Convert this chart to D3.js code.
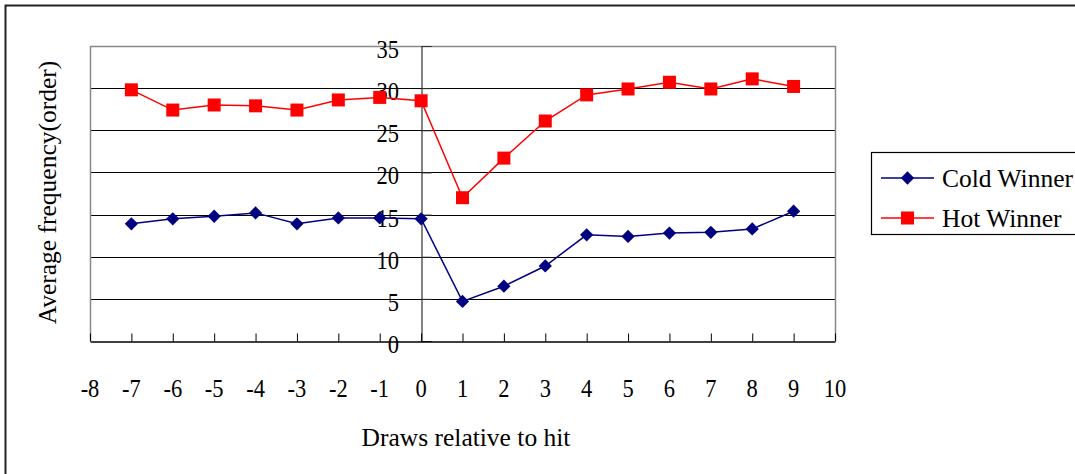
<!DOCTYPE html>
<html>
<head>
<meta charset="utf-8">
<script src="https://cdn.jsdelivr.net/npm/d3@7"></script>
<style>
  html, body { margin: 0; padding: 0; background: #fff; }
  svg { display: block; }
  text { font-family: "Liberation Serif", "Times New Roman", serif; fill: #000; }
</style>
</head>
<body>
<svg id="chart" width="1075" height="474"></svg>
<script>
// Draws relative to hit (x) and average frequency (order) per group
const draws = [-7, -6, -5, -4, -3, -2, -1, 0, 1, 2, 3, 4, 5, 6, 7, 8, 9];
const coldWinner = [13.9, 14.5, 14.8, 15.2, 13.9, 14.6, 14.6, 14.5, 4.7, 6.5, 8.9, 12.6, 12.4, 12.8, 12.9, 13.3, 15.4];
const hotWinner = [29.8, 27.4, 28.0, 27.9, 27.4, 28.6, 28.9, 28.5, 17.0, 21.7, 26.1, 29.2, 29.9, 30.7, 29.9, 31.1, 30.2];
const xTicks = [-8, -7, -6, -5, -4, -3, -2, -1, 0, 1, 2, 3, 4, 5, 6, 7, 8, 9, 10];
const yTicks = [0, 5, 10, 15, 20, 25, 30, 35];
const seriesNames = ["Cold Winner", "Hot Winner"];

const svg = d3.select("#chart");

// outer frame (runs off the right and bottom edges)
svg.append("rect")
  .attr("x", 5.5).attr("y", 5.5)
  .attr("width", 1200).attr("height", 600)
  .attr("fill", "none").attr("stroke", "#222").attr("stroke-width", 2);

const plot = { left: 90, right: 835, top: 46, bottom: 341 };
const x = d3.scaleLinear().domain([-8, 10]).range([plot.left, plot.right]);
const y = d3.scaleLinear().domain([0, 35]).range([plot.bottom, plot.top]);

// numbers are drawn a little narrow and tall
const numSize = 25, numSqueeze = 0.9, wordSize = 25.5;

// horizontal gridlines
svg.append("g").selectAll("line")
  .data(yTicks.filter(v => v > 0 && v < 35))
  .join("line")
  .attr("x1", plot.left).attr("x2", plot.right)
  .attr("y1", d => Math.round(y(d)) + 0.5).attr("y2", d => Math.round(y(d)) + 0.5)
  .attr("stroke", "#000").attr("stroke-width", 1);

// plot area frame: left, top, right in gray
svg.append("path")
  .attr("d", `M${plot.left + 0.5},${plot.bottom} V${plot.top + 0.5} H${plot.right + 0.5} V${plot.bottom}`)
  .attr("fill", "none").attr("stroke", "#888").attr("stroke-width", 1.5);

// y axis at x = 0, ticks pointing right, labels on the left
const yAxis = svg.append("g")
  .attr("transform", `translate(${Math.round(x(0)) + 0.5},0)`)
  .call(d3.axisRight(y).tickValues(yTicks).tickSize(10).tickFormat(""));
yAxis.select(".domain").attr("stroke", "#333").attr("stroke-width", 1.2);
yAxis.selectAll(".tick line").attr("stroke", "#333");

svg.append("g").selectAll("text")
  .data(yTicks)
  .join("text")
  .attr("transform", d => `translate(${Math.round(x(0)) - 22},${y(d) + 12}) scale(${numSqueeze},1)`)
  .attr("text-anchor", "end")
  .attr("font-size", numSize)
  .text(d => d);

// x axis along the bottom, ticks pointing up
const xAxis = svg.append("g")
  .attr("transform", `translate(0,${plot.bottom + 0.5})`)
  .call(d3.axisTop(x).tickValues(xTicks).tickSize(8).tickSizeOuter(0).tickFormat(""));
xAxis.select(".domain").attr("stroke", "#000").attr("stroke-width", 1.5);
xAxis.selectAll(".tick line").attr("stroke", "#000");

svg.append("g").selectAll("text")
  .data(xTicks)
  .join("text")
  .attr("transform", d => `translate(${x(d)},397) scale(${numSqueeze},1)`)
  .attr("text-anchor", "middle")
  .attr("font-size", numSize)
  .text(d => d);

// axis titles
svg.append("text")
  .attr("x", 466).attr("y", 446)
  .attr("text-anchor", "middle")
  .attr("font-size", wordSize)
  .text("Draws relative to hit");

svg.append("text")
  .attr("transform", `translate(56,${(plot.top + plot.bottom) / 2 - 1}) rotate(-90)`)
  .attr("text-anchor", "middle")
  .attr("font-size", wordSize)
  .text("Average frequency(order)");

// series
const line = d3.line().x((d, i) => x(draws[i])).y(d => y(d));
const coldColor = "#000080";
const hotColor = "#ff0000";

svg.append("path").datum(coldWinner)
  .attr("d", line).attr("fill", "none")
  .attr("stroke", coldColor).attr("stroke-width", 1.5);
svg.append("path").datum(hotWinner)
  .attr("d", line).attr("fill", "none")
  .attr("stroke", hotColor).attr("stroke-width", 1.5);

const diamond = d3.symbol().type(d3.symbolSquare).size(88);
svg.append("g").selectAll("path")
  .data(coldWinner)
  .join("path")
  .attr("d", diamond)
  .attr("transform", (d, i) => `translate(${x(draws[i])},${y(d)}) rotate(45)`)
  .attr("fill", coldColor);

svg.append("g").selectAll("rect")
  .data(hotWinner)
  .join("rect")
  .attr("x", (d, i) => x(draws[i]) - 6.5)
  .attr("y", d => y(d) - 6.5)
  .attr("width", 13).attr("height", 13)
  .attr("fill", hotColor);

// legend
const legend = svg.append("g");
legend.append("rect")
  .attr("x", 871.5).attr("y", 152.5)
  .attr("width", 260).attr("height", 82)
  .attr("fill", "#fff").attr("stroke", "#000").attr("stroke-width", 1.2);

const legendRows = [
  { name: seriesNames[0], color: coldColor, yPos: 178 },
  { name: seriesNames[1], color: hotColor, yPos: 218 }
];
legendRows.forEach((r, i) => {
  legend.append("line")
    .attr("x1", 881).attr("x2", 934)
    .attr("y1", r.yPos).attr("y2", r.yPos)
    .attr("stroke", r.color).attr("stroke-width", 1.5);
  if (i === 0) {
    legend.append("path")
      .attr("d", diamond)
      .attr("transform", `translate(907.5,${r.yPos}) rotate(45)`)
      .attr("fill", r.color);
  } else {
    legend.append("rect")
      .attr("x", 901).attr("y", r.yPos - 6.5)
      .attr("width", 13).attr("height", 13)
      .attr("fill", r.color);
  }
  legend.append("text")
    .attr("x", 942).attr("y", r.yPos + 9)
    .attr("font-size", wordSize)
    .text(r.name);
});
</script>
</body>
</html>
